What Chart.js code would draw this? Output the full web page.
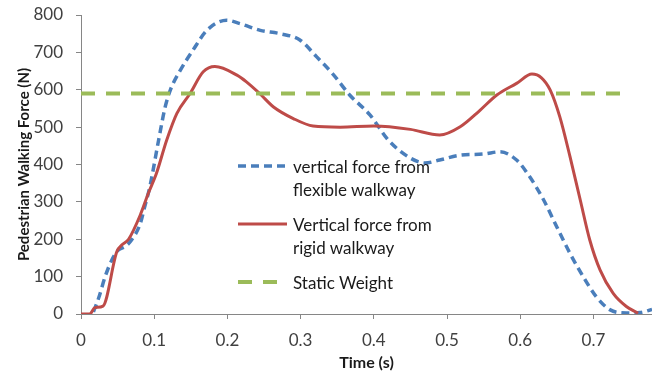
<!DOCTYPE html>
<html>
<head>
<meta charset="utf-8">
<script src="https://cdn.jsdelivr.net/npm/chart.js@4/dist/chart.umd.min.js"></script>
<style>
  html, body { margin: 0; padding: 0; background: #fff; }
  #wrap { position: relative; width: 652px; height: 374px; }
  #legend { position: absolute; left: 237px; top: 155px; font-family: Lato, "Open Sans", sans-serif; font-size: 17px; color: #1a1a1a; line-height: 23px; }
  #legend .item { display: flex; align-items: flex-start; margin-bottom: 12px; }
  #legend svg { flex: none; margin-right: 5px; margin-top: 5px; }
</style>
</head>
<body>
<div id="wrap">
  <canvas id="chart" width="652" height="374"></canvas>
  <div id="legend"></div>
</div>
<script>
// time (s) and force (N)
var timeFlex = [0.017, 0.024, 0.033, 0.042, 0.051, 0.060, 0.069, 0.081, 0.087, 0.094, 0.106, 0.115, 0.122, 0.135, 0.153, 0.172, 0.199, 0.217, 0.245, 0.272, 0.299, 0.322, 0.345, 0.367, 0.395, 0.420, 0.450, 0.470, 0.490, 0.518, 0.550, 0.572, 0.595, 0.613, 0.632, 0.650, 0.668, 0.686, 0.704, 0.723, 0.745, 0.764, 0.780];
var forceFlex = [6, 42, 100, 144, 171, 180, 198, 242, 287, 340, 465, 554, 599, 650, 706, 759, 786, 777, 759, 750, 733, 688, 640, 586, 532, 465, 417, 404, 412, 425, 428, 434, 412, 367, 305, 233, 162, 100, 46, 11, 3, 4, 12];

var timeRigid = [0, 0.012, 0.019, 0.030, 0.049, 0.056, 0.065, 0.081, 0.092, 0.103, 0.117, 0.131, 0.149, 0.167, 0.183, 0.213, 0.226, 0.245, 0.263, 0.290, 0.317, 0.354, 0.400, 0.450, 0.490, 0.518, 0.545, 0.568, 0.595, 0.616, 0.629, 0.641, 0.654, 0.668, 0.682, 0.695, 0.709, 0.727, 0.745, 0.761];
var forceRigid = [0, 0, 17, 21, 167, 185, 200, 265, 323, 376, 465, 537, 590, 648, 662, 639, 621, 588, 554, 523, 503, 500, 503, 494, 479, 501, 545, 586, 617, 642, 632, 599, 528, 421, 305, 198, 118, 55, 20, 2];

var timeStatic = [0, 0.75];
var forceStatic = [590, 590];

var xTicks = [0, 0.1, 0.2, 0.3, 0.4, 0.5, 0.6, 0.7];

var names = ['vertical force from\nflexible walkway', 'Vertical force from\nrigid walkway', 'Static Weight'];
var colors = ['#4a7ebb', '#be4b48', '#9bbb59'];
var dashes = [[8, 5], [], [14, 11]];
var widths = [3.5, 3, 4];

function pts(xs, ys) {
    return xs.map(function (x, i) { return { x: x, y: ys[i] }; });
}

var allX = [timeFlex, timeRigid, timeStatic];
var allY = [forceFlex, forceRigid, forceStatic];
var datasets = [];
for (let i = 0; i < 3; i++) {
    datasets.push({
        label: names[i],
        data: pts(allX[i], allY[i]),
        borderColor: colors[i],
        borderWidth: widths[i],
        borderDash: dashes[i],
        pointRadius: 0,
        fill: false,
        cubicInterpolationMode: 'monotone',
        order: i == 2 ? 0 : 3 - i
    });
}

Chart.defaults.font.family = 'Lato, "Open Sans", sans-serif';
Chart.defaults.color = '#404040';

new Chart(document.getElementById('chart'), {
    type: 'line',
    data: { datasets: datasets },
    options: {
        responsive: false,
        animation: false,
        layout: { padding: { top: 15, right: 0, left: 0, bottom: 0 } },
        plugins: { legend: { display: false }, tooltip: { enabled: false } },
        scales: {
            x: {
                type: 'linear',
                min: 0,
                max: 0.78,
                afterBuildTicks: function (s) { s.ticks = xTicks.map(function (v) { return { value: v }; }); },
                afterFit: function (s) { s.height = 60; s.paddingLeft = 0; s.paddingRight = 0; },
                ticks: { font: { size: 17 }, padding: 11, callback: function (v) { return String(Math.round(v * 10) / 10); } },
                grid: { drawOnChartArea: false, tickLength: 5, color: '#868686' },
                border: { color: '#868686' },
                title: { display: true, text: 'Time (s)', color: '#1a1a1a', font: { size: 16, weight: 'bold' }, padding: { top: 0, bottom: 2 } }
            },
            y: {
                min: 0,
                max: 800,
                afterFit: function (s) { s.width = 81; s.paddingTop = 0; s.paddingBottom = 0; },
                ticks: { stepSize: 100, font: { size: 17 }, padding: 13 },
                grid: { drawOnChartArea: false, tickLength: 5, color: '#868686' },
                border: { color: '#868686' },
                title: { display: true, text: 'Pedestrian Walking Force (N)', color: '#1a1a1a', font: { size: 15, weight: 'bold' }, padding: { top: 15, bottom: 0 } }
            }
        }
    }
});

// legend inside the plot, like the original
var leg = document.getElementById('legend');
for (let i = 0; i < 3; i++) {
    var item = document.createElement('div');
    item.className = 'item';
    var svg = '<svg width="51" height="12"><line x1="1" y1="6" x2="50" y2="6" stroke="' + colors[i] +
        '" stroke-width="' + widths[i] + '" stroke-dasharray="' + (dashes[i].length ? dashes[i].join(',') : 'none') + '"/></svg>';
    var txt = document.createElement('div');
    txt.innerHTML = names[i].replace('\n', '<br>');
    item.innerHTML = svg;
    item.appendChild(txt);
    leg.appendChild(item);
}
</script>
</body>
</html>
